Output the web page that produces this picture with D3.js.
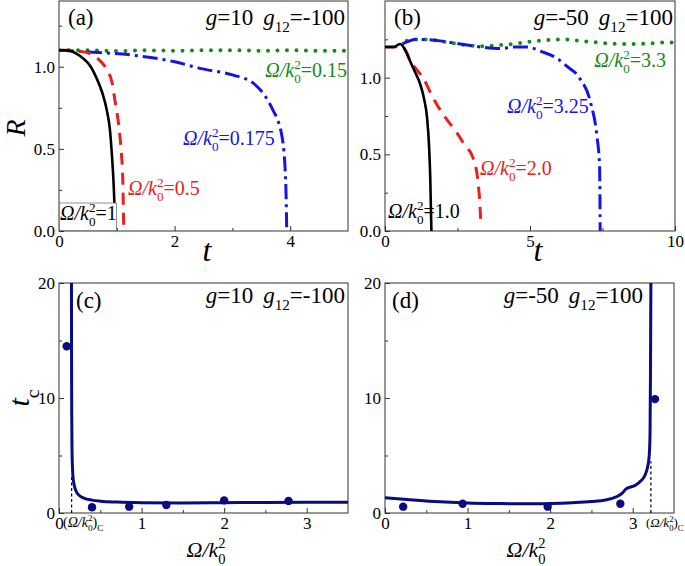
<!DOCTYPE html>
<html>
<head>
<meta charset="utf-8">
<script src="https://cdn.jsdelivr.net/npm/d3@7"></script>
<style>
  body { margin: 0; background: #fff; }
</style>
</head>
<body>
<svg id="chart" width="685" height="566"></svg>
<script>
// ---- data ----
// (a) g=10, g12=-100 : R(t)
const aBlackT = [0, 0.1, 0.2, 0.3, 0.42, 0.55, 0.65, 0.75, 0.83, 0.88, 0.91, 0.94, 0.96, 0.97];
const aBlackR = [1.1, 1.1, 1.095, 1.08, 1.05, 1.0, 0.93, 0.84, 0.73, 0.62, 0.49, 0.32, 0.15, 0.0];
const aRedT = [0, 0.2, 0.35, 0.54, 0.7, 0.83, 0.92, 0.97, 1.02, 1.05, 1.08, 1.1, 1.12];
const aRedR = [1.1, 1.1, 1.095, 1.08, 1.04, 0.98, 0.9, 0.79, 0.68, 0.59, 0.47, 0.35, 0.02];
const aBlueT = [0, 0.5, 1.28, 2.0, 2.44, 3.0, 3.36, 3.55, 3.71, 3.8, 3.85, 3.89, 3.91, 3.93, 3.94];
const aBlueR = [1.1, 1.09, 1.07, 1.03, 0.99, 0.95, 0.9, 0.83, 0.73, 0.66, 0.59, 0.49, 0.39, 0.2, 0.0];
const aGreenT = [0, 0.5, 1, 1.5, 2, 2.5, 3, 3.5, 4, 4.5, 5];
const aGreenR = [1.1, 1.1, 1.095, 1.1, 1.097, 1.1, 1.1, 1.097, 1.1, 1.097, 1.097];

// (b) g=-50, g12=100 : R(t)
const bBlackT = [0, 0.3, 0.52, 0.7, 0.86, 1.05, 1.21, 1.35, 1.45, 1.52, 1.56, 1.6];
const bBlackR = [1.2, 1.2, 1.22, 1.18, 1.11, 1.03, 0.96, 0.86, 0.74, 0.55, 0.35, 0.0];
const bRedT = [0, 0.3, 0.52, 0.7, 0.9, 1.1, 1.31, 1.6, 1.9, 2.2, 2.48, 2.75, 3.03, 3.2, 3.28, 3.3];
const bRedR = [1.2, 1.2, 1.21, 1.18, 1.1, 1.05, 1.0, 0.89, 0.79, 0.71, 0.64, 0.56, 0.48, 0.33, 0.15, 0.07];
const bBlueT = [0.6, 1.1, 1.9, 2.6, 3.3, 3.97, 4.5, 4.9, 5.4, 5.9, 6.3, 6.7, 7.1, 7.3, 7.4, 7.42];
const bBlueR = [1.22, 1.25, 1.24, 1.22, 1.2, 1.19, 1.2, 1.2, 1.17, 1.13, 1.07, 1.0, 0.83, 0.63, 0.42, 0.0];
const bGreenT = [0.75, 1.2, 1.7, 2.2, 2.7, 3.3, 3.8, 4.4, 5.0, 5.6, 6.1, 6.5, 7.0, 7.6, 8.1, 8.6, 9.2, 9.8, 10];
const bGreenR = [1.24, 1.25, 1.245, 1.23, 1.215, 1.205, 1.21, 1.22, 1.235, 1.245, 1.25, 1.245, 1.235, 1.225, 1.22, 1.22, 1.225, 1.23, 1.23];

// (c) critical time vs Omega/k0^2, g=10, g12=-100
const cOmega = [0.151, 0.152, 0.154, 0.157, 0.162, 0.17, 0.185, 0.21, 0.25, 0.3, 0.4, 0.5, 0.7, 1.0, 1.5, 2.0, 2.5, 3.0, 3.5];
const cTc = [20, 14, 9, 6, 4.2, 3.1, 2.4, 1.85, 1.5, 1.3, 1.12, 1.03, 0.95, 0.9, 0.88, 0.9, 0.92, 0.93, 0.93];
const cDotOmega = [0.093, 0.40, 0.85, 1.3, 2.0, 2.78];
const cDotTc = [14.5, 0.5, 0.55, 0.7, 1.1, 1.05];
const cCrit = 0.153, cCritTop = 3.3;

// (d) critical time vs Omega/k0^2, g=-50, g12=100
const dOmega = [0, 0.3, 0.6, 1.0, 1.4, 1.8, 2.27, 2.5, 2.67, 2.8, 2.87, 2.92, 2.95, 3.03, 3.1, 3.15, 3.18, 3.2, 3.21, 3.215, 3.22];
const dTc = [1.33, 1.15, 1.0, 0.87, 0.82, 0.8, 0.9, 1.0, 1.13, 1.4, 1.7, 2.1, 2.2, 2.4, 2.8, 3.3, 4.0, 5.0, 7.0, 12, 20];
const dDotOmega = [0.22, 0.94, 1.97, 2.85, 3.27];
const dDotTc = [0.55, 0.8, 0.55, 0.8, 9.9];
const dCrit = 3.22, dCritTop = 4.5;

const RED = '#e8211d', BLUE = '#1414e6', GREEN = '#168a16', NAVY = '#0a0a82';
const FONT = 'Liberation Serif';

const svg = d3.select('#chart');
const zip = (xs, ys) => xs.map((v, i) => [v, ys[i]]);
const serif = sel => sel.style('font-family', FONT);

// text with italic parts, subscripts and stacked sup/sub  (k_0^2)
function mathText(g, x, y, parts, fs, color, anchor) {
  const t = g.append('text').attr('x', x).attr('y', y).call(serif)
    .attr('font-size', fs).attr('fill', color || '#000')
    .attr('text-anchor', anchor || 'start');
  let shift = 0;
  parts.forEach(p => {
    const [txt, kind, extra] = p;
    if (kind === 'i' || kind === 'r') {
      t.append('tspan').attr('dy', -shift).style('font-style', kind === 'i' ? 'italic' : 'normal')
        .attr('dx', extra || 0).text(txt);
      shift = 0;
    } else if (kind === 'sub') {
      const d = fs * 0.32;
      t.append('tspan').attr('dy', d - shift).attr('font-size', fs * 0.66).text(txt);
      shift = d;
    } else if (kind === 'ss') {
      // txt = superscript, extra = subscript, stacked
      const up = -fs * 0.42, dn = fs * 0.32;
      const sp = t.append('tspan').attr('dy', up - shift).attr('font-size', fs * 0.66).text(txt);
      const len = sp.node().getComputedTextLength();
      t.append('tspan').attr('dx', -len).attr('dy', dn - up).attr('font-size', fs * 0.66).text(extra);
      shift = dn;
    }
  });
  return t;
}
const omk = (rest) => [['Ω/k', 'i'], ['2', 'ss', '0'], [rest, 'r']];

function panel(p) {
  const g = svg.append('g');
  const x = d3.scaleLinear().domain(p.xd).range([p.left, p.right]);
  const y = d3.scaleLinear().domain(p.yd).range([p.bottom, p.top]);
  const clipId = 'clip' + p.id;
  g.append('clipPath').attr('id', clipId).append('rect')
    .attr('x', p.left).attr('y', p.top).attr('width', p.right - p.left).attr('height', p.bottom - p.top);

  // axes, ticks inside
  const ax = (axis, ticks, size, fmt) => axis.tickValues(ticks).tickSizeInner(-size).tickSizeOuter(0)
    .tickPadding(4).tickFormat(fmt);
  const fixAxis = sel => {
    sel.select('.domain').remove();
    sel.selectAll('line').attr('stroke', '#333');
    sel.attr('font-family', null).attr('font-size', 17)
      .selectAll('text').attr('fill', '#000').call(serif);
  };
  g.append('g').attr('transform', `translate(0,${p.bottom})`)
    .call(ax(d3.axisBottom(x), p.xMajor, 5, p.xFmt)).call(fixAxis);
  g.append('g').attr('transform', `translate(0,${p.bottom})`)
    .call(ax(d3.axisBottom(x), p.xMinor, 3, () => '')).call(fixAxis);
  g.append('g').attr('transform', `translate(${p.left},0)`)
    .call(ax(d3.axisLeft(y), p.yMajor, 5, p.yFmt)).call(fixAxis);
  g.append('g').attr('transform', `translate(${p.left},0)`)
    .call(ax(d3.axisLeft(y), p.yMinor, 3, () => '')).call(fixAxis);

  g.append('rect').attr('x', p.left).attr('y', p.top)
    .attr('width', p.right - p.left).attr('height', p.bottom - p.top)
    .attr('fill', 'none').attr('stroke', '#333').attr('stroke-width', 1);

  const plot = g.append('g').attr('clip-path', `url(#${clipId})`);
  return { g, x, y, plot };
}

const line = (x, y) => d3.line().x(d => x(d[0])).y(d => y(d[1])).curve(d3.curveMonotoneX);

function drawCurve(P, pts, color, dash, w) {
  P.plot.append('path').datum(pts).attr('d', line(P.x, P.y))
    .attr('fill', 'none').attr('stroke', color).attr('stroke-width', w || 3)
    .attr('stroke-dasharray', dash).attr('stroke-linecap', dash === '0 9.5' ? 'round' : 'butt');
}

// ---------- (a) ----------
const A = panel({ id: 'a', left: 59, right: 348, top: 1, bottom: 231, xd: [0, 5], yd: [0, 1.4],
  xMajor: [0, 2, 4], xMinor: [1, 3], yMajor: [0, 0.5, 1.0], yMinor: [0.25, 0.75, 1.25],
  xFmt: d3.format('d'), yFmt: d3.format('.1f') });
drawCurve(A, zip(aGreenT, aGreenR), GREEN, '0 9.5', 4);
drawCurve(A, zip(aBlueT, aBlueR), BLUE, '15 5 3 5');
drawCurve(A, zip(aRedT, aRedR), RED, '12 8');
drawCurve(A, zip(aBlackT, aBlackR), '#000', null, 2.6);

// ---------- (b) ----------
const B = panel({ id: 'b', left: 385, right: 675, top: 1, bottom: 231, xd: [0, 10], yd: [0, 1.5],
  xMajor: [0, 5, 10], xMinor: [2.5, 7.5], yMajor: [0, 0.5, 1.0], yMinor: [0.25, 0.75, 1.25],
  xFmt: d3.format('d'), yFmt: d3.format('.1f') });
drawCurve(B, zip(bGreenT, bGreenR), GREEN, '0 9.5', 4);
drawCurve(B, zip(bBlueT, bBlueR), BLUE, '15 5 3 5');
drawCurve(B, zip(bRedT, bRedR), RED, '12 8');
drawCurve(B, zip(bBlackT, bBlackR), '#000', null, 2.6);

// ---------- (c) ----------
const C = panel({ id: 'c', left: 59, right: 348, top: 283, bottom: 513, xd: [0, 3.5], yd: [0, 20],
  xMajor: [0, 1, 2, 3], xMinor: [0.5, 1.5, 2.5], yMajor: [0, 10, 20], yMinor: [5, 15],
  xFmt: d3.format('d'), yFmt: d3.format('d') });
// ---------- (d) ----------
const D = panel({ id: 'd', left: 385, right: 674, top: 283, bottom: 513, xd: [0, 3.5], yd: [0, 20],
  xMajor: [0, 1, 2, 3], xMinor: [0.5, 1.5, 2.5], yMajor: [0, 10, 20], yMinor: [5, 15],
  xFmt: d3.format('d'), yFmt: d3.format('d') });

[[C, cCrit, cCritTop, cOmega, cTc, cDotOmega, cDotTc], [D, dCrit, dCritTop, dOmega, dTc, dDotOmega, dDotTc]]
  .forEach(([P, crit, top, om, tc, dom, dtc]) => {
    P.plot.append('line').attr('x1', P.x(crit)).attr('x2', P.x(crit))
      .attr('y1', P.y(0)).attr('y2', P.y(top))
      .attr('stroke', '#000').attr('stroke-width', 1.2).attr('stroke-dasharray', '3 2.5');
    drawCurve(P, zip(om, tc), NAVY, null, 3);
    P.plot.selectAll('circle.dot').data(zip(dom, dtc)).enter().append('circle')
      .attr('cx', d => P.x(d[0])).attr('cy', d => P.y(d[1])).attr('r', 4.2).attr('fill', NAVY);
  });

// ---------- labels ----------
const L = svg.append('g');
// panel tags
[['(a)', 68, 25], ['(b)', 394, 25], ['(c)', 76, 308], ['(d)', 392, 308]].forEach(([s, x, y]) =>
  L.append('text').attr('x', x).attr('y', y).attr('font-size', 23).call(serif).text(s));

const gPar = (a, b) => [['g', 'i'], ['=' + a, 'r'], ['g', 'i', 10], ['12', 'sub'], ['=' + b, 'r']];
mathText(L, 345, 25, gPar('10', '-100'), 23, '#000', 'end');
mathText(L, 673, 25, gPar('-50', '100'), 23, '#000', 'end');
mathText(L, 345, 303, gPar('10', '-100'), 23, '#000', 'end');
mathText(L, 643, 303, gPar('-50', '100'), 23, '#000', 'end');

// curve labels (a)
mathText(L, 347, 77, omk('=0.15'), 20, GREEN, 'end');
mathText(L, 183, 145, omk('=0.175'), 20, BLUE);
mathText(L, 128, 195, omk('=0.5'), 20, RED);
L.append('rect').attr('x', 59.5).attr('y', 203).attr('width', 57).attr('height', 27.5)
  .attr('fill', '#fff').attr('stroke', '#777').attr('stroke-width', 0.8);
mathText(L, 60, 220, omk('=1'), 20, '#000');
// curve labels (b)
mathText(L, 666, 67, omk('=3.3'), 20, GREEN, 'end');
mathText(L, 507, 113, omk('=3.25'), 20, BLUE);
mathText(L, 480, 175, omk('=2.0'), 20, RED);
mathText(L, 388, 218, omk('=1.0'), 20, '#000');

// critical-value tick labels
const critLbl = [['(', 'r'], ['Ω/k', 'i'], ['2', 'ss', '0'], [')', 'r'], ['C', 'sub']];
mathText(L, 63, 527, critLbl, 14, '#000');
mathText(L, 646, 527, critLbl, 13, '#000');

// axis titles
L.append('text').attr('transform', 'translate(25,128) rotate(-90)').attr('text-anchor', 'middle')
  .attr('font-size', 28).style('font-style', 'italic').call(serif).text('R');
L.append('text').attr('x', 207).attr('y', 261).attr('text-anchor', 'middle')
  .attr('font-size', 32).style('font-style', 'italic').call(serif).text('t');
L.append('text').attr('x', 538).attr('y', 261).attr('text-anchor', 'middle')
  .attr('font-size', 32).style('font-style', 'italic').call(serif).text('t');
const tc = L.append('g').attr('transform', 'translate(29,398) rotate(-90)');
mathText(tc, 0, 0, [['t', 'i'], ['c', 'sub']], 30, '#000', 'middle');
mathText(L, 206, 557, omk(''), 22, '#000', 'middle');
mathText(L, 526, 557, omk(''), 22, '#000', 'middle');
</script>
</body>
</html>
